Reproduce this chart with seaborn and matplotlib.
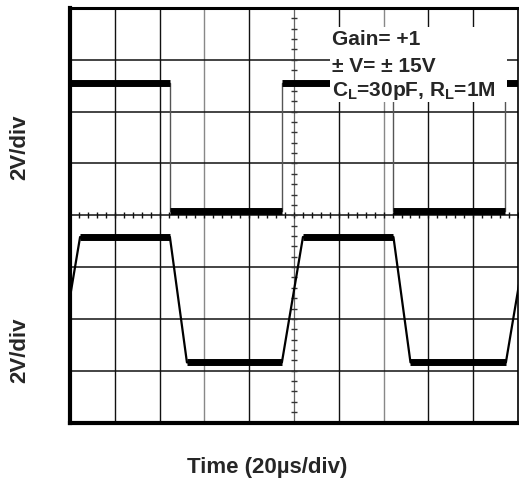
import numpy as np
import pandas as pd
import matplotlib
matplotlib.use("Agg")
import matplotlib.pyplot as plt
from matplotlib.patches import Rectangle
import seaborn as sns

# ---------------- data (screen units: 20 us/div, 2 V/div, 10 x 8 divisions) -------------
# input (top trace): time of each vertex in microseconds and screen voltage
top_time = [0.0, 44.6, 44.6, 94.6, 94.6, 144.4, 144.4, 194.2, 194.2, 200.0]
top_volt = [13.1, 13.1, 8.16, 8.16, 13.1, 13.1, 8.16, 8.16, 13.1, 13.1]
# output (bottom trace)
bot_time = [-4.9, 4.5, 44.6, 52.2, 94.6, 104.0, 144.4, 152.0, 194.6, 204.0]
bot_volt = [2.32, 7.16, 7.16, 2.32, 2.32, 7.16, 7.16, 2.32, 2.32, 7.16]

x_label = "Time (20µs/div)"
y_label_top = "2V/div"
y_label_bot = "2V/div"
annot_lines = ["Gain= +1", "± V= ± 15V", r"C$_\mathrm{L}$=30pF, R$_\mathrm{L}$=1M"]

x_div, y_div = 20.0, 2.0
n_xdiv, n_ydiv = 10, 8

# ---------------- style -------------
sns.set_style("white")
plt.rcParams["font.family"] = ["Liberation Sans", "DejaVu Sans"]
plt.rcParams["font.weight"] = "bold"
plt.rcParams["mathtext.fontset"] = "custom"
plt.rcParams["mathtext.rm"] = "Liberation Sans:bold"
plt.rcParams["mathtext.it"] = "Liberation Sans:bold"
plt.rcParams["mathtext.bf"] = "Liberation Sans:bold"

W, H = 519, 484
fig = plt.figure(figsize=(W / 100, H / 100), dpi=100)
left_px, right_px, top_px, bot_px = 70, 518, 8.0, 422.5
ax = fig.add_axes([left_px / W, 1 - bot_px / H, (right_px - left_px) / W, (bot_px - top_px) / H])

ax.set_xlim(0, n_xdiv * x_div)
ax.set_ylim(0, n_ydiv * y_div)

# ---------------- graticule -------------
grey_cols = {3, 7}
for i in range(1, n_xdiv):
    if i == 5:
        ax.axvline(i * x_div, color="#666666", lw=0.9, zorder=1)
    else:
        ax.axvline(i * x_div, color="#888888" if i in grey_cols else "#111111", lw=1.0, zorder=1)
for j in range(1, n_ydiv):
    ax.axhline(j * y_div, color="#111111", lw=1.1, zorder=1)

# minor ticks on the centre cross
tx = np.arange(0, n_xdiv * 5 + 1) * x_div / 5
ax.plot(tx, np.full_like(tx, 4 * y_div), ls="none", marker="|", ms=5, mew=1.0, color="#111111", zorder=1)
ty = np.arange(0, n_ydiv * 5 + 1) * y_div / 5
ax.plot(np.full_like(ty, 5 * x_div), ty, ls="none", marker="_", ms=4, mew=1.0, color="#333333", zorder=1)

# ---------------- traces -------------
top_df = pd.DataFrame({"t": top_time, "v": top_volt, "seg": [i // 2 for i in range(len(top_time))]})
bot_df = pd.DataFrame({"t": bot_time, "v": bot_volt, "seg": [(i + 1) // 2 for i in range(len(bot_time))]})
top_df["order"] = range(len(top_df))
bot_df["order"] = range(len(bot_df))

# thin connecting edges
sns.lineplot(data=top_df, x="t", y="v", sort=False, estimator=None, color="#555555", lw=1.0, ax=ax, zorder=3)
sns.lineplot(data=bot_df, x="t", y="v", sort=False, estimator=None, color="black", lw=1.6, ax=ax, zorder=3)
# thick noisy flat levels
sns.lineplot(data=top_df, x="t", y="v", units="seg", sort=False, estimator=None, color="black",
             lw=5.0, ax=ax, zorder=4, solid_capstyle="butt")
sns.lineplot(data=bot_df, x="t", y="v", units="seg", sort=False, estimator=None, color="black",
             lw=5.0, ax=ax, zorder=4, solid_capstyle="butt")

ax.set_xlabel("")
ax.set_ylabel("")
ax.set_xticks([])
ax.set_yticks([])

for side, lw in [("left", 3.0), ("bottom", 3.0), ("top", 2.2), ("right", 1.2)]:
    ax.spines[side].set_visible(True)
    ax.spines[side].set_linewidth(lw)
    ax.spines[side].set_color("black")
    ax.spines[side].set_zorder(6)

# ---------------- annotation box -------------
def ax_x(px):
    return (px - left_px) / (right_px - left_px)

def ax_y(py):
    return (bot_px - py) / (bot_px - top_px)

ax.add_patch(Rectangle((ax_x(330), ax_y(102)), ax_x(507) - ax_x(330), ax_y(27) - ax_y(102),
                       transform=ax.transAxes, facecolor="white", edgecolor="none", zorder=5))
for txt, base in zip(annot_lines, [45, 72, 96.5]):
    ax.text(ax_x(332), ax_y(base), txt, transform=ax.transAxes, fontsize=15, fontweight="bold",
            ha="left", va="baseline", zorder=7)

# ---------------- labels -------------
fig.text(20 / W, 1 - 147 / H, y_label_top, rotation=90, fontsize=16, fontweight="bold",
         ha="center", va="center")
fig.text(20 / W, 1 - 350 / H, y_label_bot, rotation=90, fontsize=16, fontweight="bold",
         ha="center", va="center")
fig.text(267 / W, 1 - 467 / H, x_label, fontsize=16, fontweight="bold", ha="center", va="center")

fig.savefig("out.png", dpi=100)
